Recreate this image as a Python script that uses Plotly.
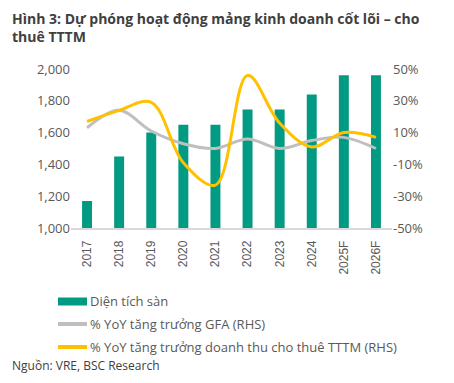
import plotly.graph_objects as go

years = ["2017", "2018", "2019", "2020", "2021", "2022", "2023", "2024", "2025F", "2026F"]
floor_area = [1170, 1450, 1600, 1650, 1650, 1745, 1745, 1840, 1960, 1960]
gfa_growth = [13, 24, 11, 3, 0, 6, 0, 5, 7, 0]
rent_growth = [17, 24, 29, -9, -23, 46, 16, 1, 10, 7]

left_ticks = [1000, 1200, 1400, 1600, 1800, 2000]
right_ticks = [-50, -30, -10, 10, 30, 50]
right_labels = ["-50%", "-30%", "-10%", "10%", "30%", "50%"]

names = ["Diện tích sàn", "% YoY tăng trưởng GFA (RHS)", "% YoY tăng trưởng doanh thu cho thuê TTTM (RHS)"]
colors = ["#009B82", "#BFBFBF", "#FFC000"]

FONT = "Open Sans"
TXT = "#595959"
W, H = 454, 383
L, R, T, B = 71, 392, 69, 228


def px(xp):
    return (xp - L) / (R - L)


def py(yp):
    return (B - yp) / (B - T)


fig = go.Figure()
fig.add_trace(go.Bar(x=years, y=floor_area, name=names[0], showlegend=False,
                     marker=dict(color=colors[0], line=dict(width=0)), width=0.31))
fig.add_trace(go.Scatter(x=years, y=gfa_growth, name=names[1], yaxis="y2", showlegend=False,
                         mode="lines", line=dict(color=colors[1], width=3, shape="spline", smoothing=1.0)))
fig.add_trace(go.Scatter(x=years, y=rent_growth, name=names[2], yaxis="y2", showlegend=False,
                         mode="lines", line=dict(color=colors[2], width=3, shape="spline", smoothing=1.0)))

shapes = []
annotations = []
# manual legend
leg_y = [301, 324, 347]
shapes.append(dict(type="rect", xref="paper", yref="paper", x0=px(58), x1=px(87),
                   y0=py(305.5), y1=py(297.5), fillcolor=colors[0], line=dict(width=0)))
for i in (1, 2):
    shapes.append(dict(type="line", xref="paper", yref="paper", x0=px(58), x1=px(87),
                       y0=py(leg_y[i]), y1=py(leg_y[i]), line=dict(color=colors[i], width=4)))
for i in range(3):
    annotations.append(dict(text=names[i], xref="paper", yref="paper", x=px(88), y=py(leg_y[i]),
                            xanchor="left", yanchor="middle", showarrow=False,
                            font=dict(size=13, color=TXT)))
annotations.append(dict(text="Nguồn: VRE, BSC Research", xref="paper", yref="paper",
                        x=px(10), y=py(365), xanchor="left", yanchor="middle", showarrow=False,
                        font=dict(size=12, color="#404040")))
annotations.append(dict(text="<b>Hình 3: Dự phóng hoạt động mảng kinh doanh cốt lõi – cho<br>thuê TTTM</b>",
                        xref="paper", yref="paper", x=px(10), y=py(7), xanchor="left", yanchor="top",
                        align="left", showarrow=False, font=dict(size=14, color="#404040")))

fig.update_layout(
    width=W, height=H,
    margin=dict(l=L, r=W - R, t=T, b=H - B, autoexpand=False),
    paper_bgcolor="white", plot_bgcolor="white",
    font=dict(family=FONT, color=TXT, size=12),
    showlegend=False,
    xaxis=dict(type="category", tickangle=-90, showgrid=False, showline=True, linecolor="#D9D9D9",
               linewidth=1.5, ticks="", ticklabelstandoff=6,
               tickfont=dict(family="Liberation Sans, Arial", size=12, color=TXT)),
    yaxis=dict(range=[1000, 2000], tickvals=left_ticks, tickformat=",", showgrid=False, zeroline=False,
               ticks="", tickfont=dict(size=13, color=TXT)),
    yaxis2=dict(range=[-50, 50], tickvals=right_ticks, ticktext=right_labels, overlaying="y", side="right",
                showgrid=False, zeroline=False, ticks="", tickfont=dict(size=13, color=TXT)),
    shapes=shapes,
    annotations=annotations,
)
fig.write_html("out.html", config={"displayModeBar": False},
               post_script="document.body.style.margin='0';document.body.style.padding='0';")
